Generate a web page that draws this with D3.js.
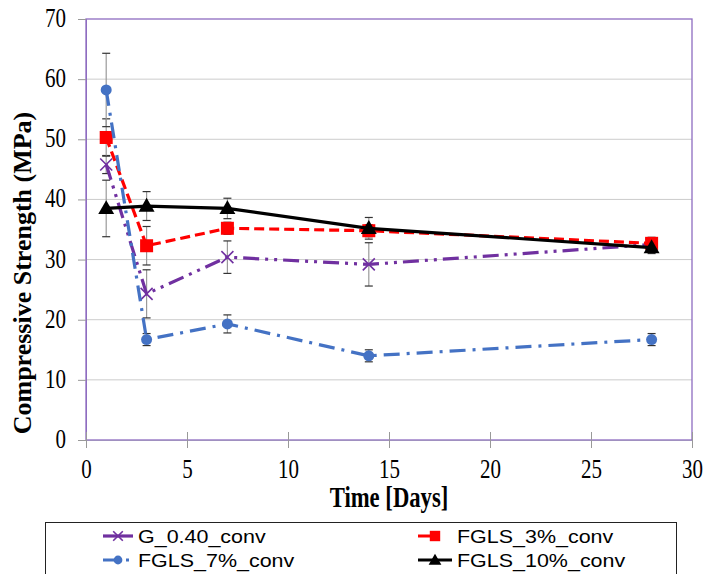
<!DOCTYPE html>
<html>
<head>
<meta charset="utf-8">
<script src="https://cdnjs.cloudflare.com/ajax/libs/d3/7.8.5/d3.min.js"></script>
<style>
  html, body { margin: 0; padding: 0; background: #fff; }
  svg { display: block; }
</style>
</head>
<body>
<svg id="chart" width="707" height="574"></svg>
<script>
// Compressive strength over curing time
const days = [1, 3, 7, 14, 28];
const seriesNames = ["G_0.40_conv", "FGLS_3%_conv", "FGLS_7%_conv", "FGLS_10%_conv"];
const g040 = [45.8, 24.3, 30.4, 29.2, 32.5];
const fgls3 = [50.3, 32.3, 35.2, 34.8, 32.7];
const fgls7 = [58.2, 16.7, 19.3, 14.0, 16.7];
const fgls10 = [38.5, 38.9, 38.5, 35.2, 32.0];
const g040Err = [1.5, 4.0, 2.7, 3.6, 1.0];
const fgls3Err = [3.1, 3.2, 1.0, 1.0, 1.0];
const fgls7Err = [6.1, 1.0, 1.5, 1.0, 1.0];
const fgls10Err = [4.7, 2.4, 1.7, 1.8, 1.0];
const xTicks = [0, 5, 10, 15, 20, 25, 30];
const yTicks = [0, 10, 20, 30, 40, 50, 60, 70];

const svg = d3.select("#chart");
const plotL = 86, plotR = 692, plotT = 19, plotB = 440;
const serif = "Liberation Serif, Times New Roman, serif";
const sans = "Liberation Sans, Arial, sans-serif";

const x = d3.scaleLinear().domain([0, 30]).range([plotL, plotR]);
const y = d3.scaleLinear().domain([0, 70]).range([plotB, plotT]);

const styles = [
  { name: seriesNames[0], vals: g040, err: g040Err, color: "#7030a0", dash: "16,6,3,6,3,6", marker: "x" },
  { name: seriesNames[1], vals: fgls3, err: fgls3Err, color: "#ff0000", dash: "10,5", marker: "square" },
  { name: seriesNames[2], vals: fgls7, err: fgls7Err, color: "#4472c4", dash: "16,7,3,7", marker: "circle" },
  { name: seriesNames[3], vals: fgls10, err: fgls10Err, color: "#000000", dash: null, marker: "triangle" }
];

// gridlines
svg.append("g")
  .selectAll("line")
  .data(yTicks.filter(d => d > 0 && d < 70))
  .join("line")
  .attr("x1", plotL).attr("x2", plotR)
  .attr("y1", d => y(d)).attr("y2", d => y(d))
  .attr("stroke", "#cccccc").attr("stroke-width", 1);

// plot frame
svg.append("rect")
  .attr("x", plotL).attr("y", plotT)
  .attr("width", plotR - plotL).attr("height", plotB - plotT)
  .attr("fill", "none").attr("stroke", "#8e6cc0").attr("stroke-width", 1.3);

// y axis: labels are slightly tall (stretched vertically)
const yAxis = d3.axisLeft(y).tickValues(yTicks).tickSize(8).tickFormat(d3.format("d"));
const gy = svg.append("g").attr("transform", `translate(${plotL},0)`).call(yAxis);
gy.select(".domain").attr("stroke", "#8e6cc0");
gy.selectAll(".tick line").attr("stroke", "#999");
gy.selectAll(".tick text")
  .attr("x", null).attr("dy", null).attr("y", null)
  .attr("transform", "translate(-20,7.5) scale(1,1.27)")
  .attr("text-anchor", "end")
  .attr("font-family", serif).attr("font-size", 21).attr("fill", "#000");

// x axis (ticks cross the axis line)
const xAxis = d3.axisBottom(x).tickValues(xTicks).tickSize(8).tickFormat(d3.format("d"));
const gx = svg.append("g").attr("transform", `translate(0,${plotB})`).call(xAxis);
gx.select(".domain").attr("stroke", "#a090c0");
gx.selectAll(".tick line").attr("y1", -8).attr("y2", 8).attr("stroke", "#999");
gx.selectAll(".tick text")
  .attr("y", null).attr("dy", null)
  .attr("transform", "translate(0,38) scale(1,1.27)")
  .attr("font-family", serif).attr("font-size", 21).attr("fill", "#000");

// axis titles
svg.append("text")
  .attr("transform", `translate(${x(15)},507) scale(1,1.3)`)
  .attr("text-anchor", "middle")
  .attr("font-family", serif)
  .attr("font-weight", "bold").attr("font-size", 22.7)
  .text("Time [Days]");
svg.append("text")
  .attr("transform", "translate(31,273) rotate(-90)")
  .attr("text-anchor", "middle")
  .attr("font-family", serif)
  .attr("font-weight", "bold").attr("font-size", 26)
  .text("Compressive Strength (MPa)");

// error bars
const errG = svg.append("g");
styles.forEach(s => {
  days.forEach((d, i) => {
    const cx = x(d), y1 = y(s.vals[i] + s.err[i]), y2 = y(s.vals[i] - s.err[i]);
    errG.append("line").attr("x1", cx).attr("x2", cx).attr("y1", y1).attr("y2", y2)
      .attr("stroke", "#9a9a9a").attr("stroke-width", 1.2);
    [y1, y2].forEach(yy => errG.append("line")
      .attr("x1", cx - 4).attr("x2", cx + 4).attr("y1", yy).attr("y2", yy)
      .attr("stroke", "#333").attr("stroke-width", 1.2));
  });
});

function drawMarker(g, type, cx, cy, color, scale) {
  const k = scale || 1;
  if (type === "x") {
    const r = 6 * k;
    g.append("path").attr("d", `M${cx - r},${cy - r}L${cx + r},${cy + r}M${cx - r},${cy + r}L${cx + r},${cy - r}`)
      .attr("stroke", color).attr("stroke-width", 1.6).attr("fill", "none");
  } else if (type === "square") {
    const r = 6.5 * k;
    g.append("rect").attr("x", cx - r).attr("y", cy - r).attr("width", 2 * r).attr("height", 2 * r).attr("fill", color);
  } else if (type === "circle") {
    g.append("circle").attr("cx", cx).attr("cy", cy).attr("r", 5.5 * k).attr("fill", color);
  } else if (type === "triangle") {
    g.append("path").attr("d", d3.symbol().type(d3.symbolTriangle).size(110 * k * k)())
      .attr("transform", `translate(${cx},${cy + 1})`).attr("fill", color);
  }
}

// series lines and markers
const line = d3.line().x((d, i) => x(days[i])).y(d => y(d));
styles.forEach(s => {
  const g = svg.append("g");
  g.append("path").datum(s.vals).attr("d", line)
    .attr("fill", "none").attr("stroke", s.color).attr("stroke-width", 3.2)
    .attr("stroke-dasharray", s.dash);
  s.vals.forEach((v, i) => drawMarker(g, s.marker, x(days[i]), y(v), s.color));
});

// legend (two columns, text is wide)
const lg = svg.append("g");
lg.append("rect").attr("x", 45.5).attr("y", 522.5).attr("width", 631).attr("height", 70)
  .attr("fill", "#fff").attr("stroke", "#222").attr("stroke-width", 1);
const legendPos = [[103, 536], [418, 536], [103, 560], [418, 560]];
const legendLen = [30, 34, 30, 34];
const legendDash = [null, "12,4,4,20", "18,5,3,20", null];
styles.forEach((s, i) => {
  const [lx, ly] = legendPos[i];
  const len = legendLen[i];
  lg.append("line").attr("x1", lx).attr("x2", lx + len).attr("y1", ly).attr("y2", ly)
    .attr("stroke", s.color).attr("stroke-width", 3.2)
    .attr("stroke-dasharray", legendDash[i]);
  drawMarker(lg, s.marker, lx + len / 2, ly, s.color, 0.8);
  lg.append("text")
    .attr("transform", `translate(${lx + len + 5},${ly + 7}) scale(1.13,1)`)
    .attr("font-family", sans)
    .attr("font-size", 19).attr("fill", "#000")
    .text(s.name);
});
</script>
</body>
</html>
